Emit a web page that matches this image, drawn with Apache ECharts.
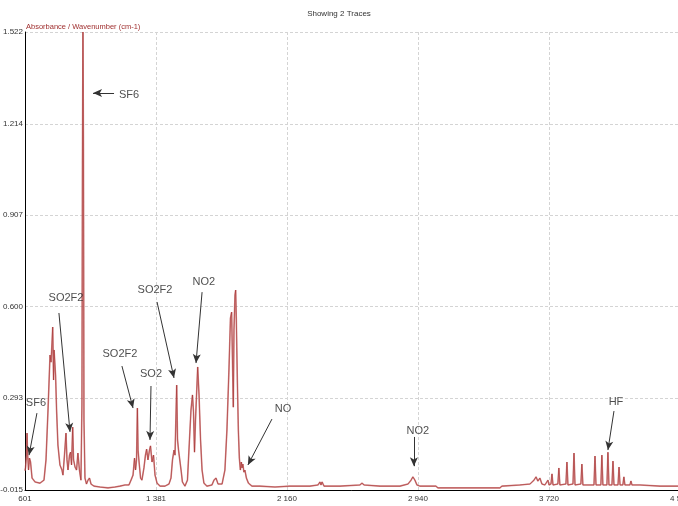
<!DOCTYPE html>
<html><head><meta charset="utf-8">
<script src="https://cdn.jsdelivr.net/npm/echarts@6/dist/echarts.min.js"></script>
<style>html,body{margin:0;padding:0;background:#fff}#c{width:678px;height:506px}</style>
</head><body><div id="c"></div>
<script>
// Wavenumber (cm-1) and absorbance
const wavenumber = [601,604,610,613,616,622,628,634,643,661,690,714,726,738,750,756,762,766,771,774,780,783,789,797,809,821,827,836,845,851,857,866,872,878,885,890,899,908,916,925,934,940,943,946,949,952,958,967,976,985,994,1012,1047,1095,1137,1166,1196,1220,1232,1244,1253,1259,1265,1270,1274,1280,1289,1297,1309,1318,1325,1333,1342,1348,1357,1366,1375,1387,1405,1434,1458,1470,1479,1488,1494,1504,1509,1515,1521,1530,1538,1553,1568,1580,1589,1598,1604,1610,1616,1629,1637,1646,1655,1666,1684,1714,1726,1738,1750,1774,1791,1803,1815,1824,1831,1836,1841,1845,1851,1855,1859,1865,1871,1877,1883,1889,1893,1898,1904,1910,1919,1931,1952,1999,2089,2178,2238,2297,2345,2357,2363,2369,2381,2476,2595,2607,2619,2714,2833,2881,2899,2910,2922,2934,2952,3047,3059,3428,3440,3547,3607,3631,3643,3654,3666,3678,3696,3714,3720,3732,3738,3744,3773,3779,3785,3821,3827,3833,3863,3869,3875,3910,3916,3922,3988,3994,4000,4029,4035,4041,4065,4071,4077,4095,4101,4107,4131,4137,4143,4160,4166,4172,4202,4208,4214,4262,4381,4500];
const absorbance = [0.05,0.059,0.102,0.176,0.112,0.052,0.092,0.079,0.025,0.012,0.008,0.018,0.086,0.253,0.438,0.414,0.482,0.532,0.354,0.455,0.461,0.371,0.253,0.136,0.069,0.052,0.035,0.102,0.176,0.086,0.052,0.102,0.112,0.069,0.196,0.086,0.062,0.052,0.109,0.052,0.018,0.270,1.092,1.522,1.126,0.220,0.025,0.005,0.018,0.025,0.005,-0.002,-0.005,-0.008,-0.005,-0.002,0.002,0.002,0.018,0.035,0.092,0.052,0.086,0.260,0.119,0.079,0.025,0.018,0.059,0.102,0.122,0.086,0.119,0.133,0.079,0.102,0.035,0.008,-0.002,-0.002,0.005,0.025,0.086,0.119,0.102,0.337,0.153,0.119,0.092,0.052,0.012,-0.002,0.018,0.153,0.253,0.304,0.247,0.112,0.220,0.398,0.304,0.153,0.052,0.008,-0.002,0.002,0.018,0.025,0.005,0.005,0.052,0.186,0.388,0.562,0.582,0.421,0.263,0.522,0.639,0.656,0.555,0.354,0.186,0.092,0.052,0.079,0.059,0.072,0.045,0.052,0.025,0.008,-0.002,-0.002,-0.005,-0.002,-0.002,-0.002,0.002,0.012,0.002,0.012,-0.002,-0.002,0.002,0.008,0.002,-0.002,-0.002,0.005,0.018,0.029,0.018,0.002,-0.002,-0.002,-0.008,-0.008,-0.002,0.002,0.005,0.018,0.029,0.015,0.025,0.005,0.002,0.018,0.002,0.005,0.039,0.002,0.005,0.059,0.002,0.005,0.079,0.002,0.005,0.109,0.002,0.005,0.072,0.002,0.002,0.099,0.002,0.002,0.102,0.002,0.002,0.112,0.002,0.002,0.082,0.002,0.002,0.062,0.002,0.002,0.029,0.002,0.002,0.015,0.002,0.002,-0.002,-0.002];

const xTicks = [601,1381,2160,2940,3720,4500];
const yTicks = [-0.015,0.293,0.600,0.907,1.214,1.522];

// Annotations: label text, label position, arrow start, arrow end (data units)
const annoText  = ['SF6','SO2F2','SF6','SO2F2','SO2','SO2F2','NO2','NO','NO2','HF'];
const annoLabel = [[666,0.277],[845,0.629],[1220,1.310],[1166,0.441],[1351,0.374],[1375,0.656],[1666,0.683],[2137,0.257],[2940,0.183],[4119,0.280]];
const annoFrom  = [[672,0.243],[803,0.579],[1131,1.317],[1178,0.401],[1351,0.334],[1387,0.616],[1655,0.649],[2071,0.223],[2916,0.163],[4107,0.250]];
const annoTo    = [[625,0.102],[869,0.180],[1006,1.317],[1244,0.260],[1345,0.153],[1488,0.361],[1619,0.411],[1928,0.069],[2916,0.065],[4071,0.119]];

const spectrum = wavenumber.map((w,i)=>[w,absorbance[i]]);
const small = '"Liberation Sans Narrow","Arial Narrow","Liberation Sans",Arial,sans-serif';
const fmtX = v => String(Math.round(v)).replace(/\B(?=(\d{3})+$)/g,' ');

const chart = echarts.init(document.getElementById('c'));
chart.setOption({
  animation:false,
  backgroundColor:'#fff',
  title:[
    {text:'Showing 2 Traces', left:'center', top:5, textStyle:{fontSize:8, fontWeight:'normal', color:'#333', fontFamily:small}},
    {text:'Absorbance / Wavenumber (cm-1)', left:21, top:18, textStyle:{fontSize:7.5, fontWeight:'normal', color:'#a03030', fontFamily:small}}
  ],
  grid:{left:25, right:-2, top:32, bottom:16, containLabel:false, outerBoundsMode:'none'},
  xAxis:{type:'value', min:601, max:4500,
    axisLine:{show:true, onZero:false, lineStyle:{color:'#000', width:1}},
    axisTick:{show:false, customValues:xTicks},
    axisLabel:{customValues:xTicks, formatter:fmtX, fontSize:8, color:'#333', fontFamily:small, margin:5},
    splitLine:{show:true, lineStyle:{color:'#d4d4d4', type:[3,2], width:1}}
  },
  yAxis:{type:'value', min:-0.015, max:1.522,
    axisLine:{show:true, onZero:false, lineStyle:{color:'#000', width:1}},
    axisTick:{show:false, customValues:yTicks},
    axisLabel:{customValues:yTicks, formatter:v=>v.toFixed(3), fontSize:8, color:'#333', fontFamily:small, margin:2},
    splitLine:{show:true, lineStyle:{color:'#d4d4d4', type:[3,2], width:1}}
  },
  series:[
    {type:'line', data:spectrum, showSymbol:false, symbol:'none', sampling:false,
      lineStyle:{color:'#c86a6a', width:1.6, opacity:0.75}, z:2},
    {type:'line', data:spectrum, showSymbol:false, symbol:'none',
      lineStyle:{color:'#9b1f1f', width:0.7, opacity:0.7}, z:3},
    {type:'scatter', symbolSize:0, z:5, silent:true,
      data:annoLabel.map((p,i)=>({value:[p[0],p[1]], name:annoText[i]})),
      label:{show:true, position:'inside', formatter:'{b}', fontSize:11, color:'#222', fontFamily:'"Liberation Sans",Arial,sans-serif'},
      markLine:{silent:true, symbol:['none','arrow'], symbolSize:[6,9], animation:false,
        label:{show:false},
        lineStyle:{color:'#333', width:1, type:'solid'},
        data:annoFrom.map((s,i)=>[{coord:s},{coord:annoTo[i]}])}
    }
  ]
});
</script></body></html>
